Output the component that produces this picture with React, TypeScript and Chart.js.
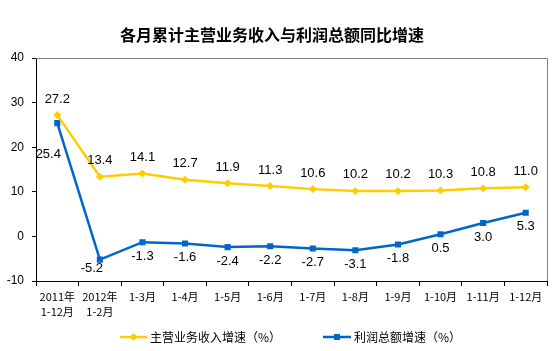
import React, { useEffect, useRef } from "react";
import { Chart, registerables } from "chart.js";
Chart.register(...registerables);

const titleText = "各月累计主营业务收入与利润总额同比增速";
const categories: (string | string[])[] = [
  ["2011年", "1-12月"],
  ["2012年", "1-2月"],
  "1-3月",
  "1-4月",
  "1-5月",
  "1-6月",
  "1-7月",
  "1-8月",
  "1-9月",
  "1-10月",
  "1-11月",
  "1-12月",
];
const revenueName = "主营业务收入增速（%）";
const revenue = [27.2, 13.4, 14.1, 12.7, 11.9, 11.3, 10.6, 10.2, 10.2, 10.3, 10.8, 11.0];
const profitName = "利润总额增速（%）";
const profit = [25.4, -5.2, -1.3, -1.6, -2.4, -2.2, -2.7, -3.1, -1.8, 0.5, 3.0, 5.3];
const yMin = -10;
const yMax = 40;
const yStep = 10;

const YELLOW = "#FFCC00";
const BLUE = "#0066CC";
const LATIN = '"Liberation Sans", Arial, "Noto Sans CJK SC", sans-serif';
const CJK = '"Noto Sans CJK SC", "Liberation Sans", sans-serif';

const decor = {
  id: "decor",
  afterDraw(chart: any) {
    const ctx = chart.ctx as CanvasRenderingContext2D;
    const a = chart.chartArea;
    ctx.save();
    // top/right frame
    ctx.strokeStyle = "#808080";
    ctx.lineWidth = 1;
    ctx.beginPath();
    ctx.moveTo(a.left, Math.round(a.top) + 0.5);
    ctx.lineTo(Math.round(a.right) + 0.5, Math.round(a.top) + 0.5);
    ctx.lineTo(Math.round(a.right) + 0.5, a.bottom);
    ctx.stroke();

    // title
    ctx.fillStyle = "#000";
    ctx.font = "bold 16px " + CJK;
    ctx.textAlign = "center";
    ctx.textBaseline = "middle";
    ctx.fillText(titleText, 272, 35);

    // data labels
    ctx.font = "13px " + LATIN;
    chart.data.datasets.forEach((ds: any, di: number) => {
      const meta = chart.getDatasetMeta(di);
      meta.data.forEach((pt: any, i: number) => {
        const v = ds.data[i] as number;
        let dx = 0;
        let dy = di === 0 ? -16 : 14;
        if (di === 1 && i === 0) {
          dx = -9;
          dy = 31;
        }
        if (di === 1 && i === 1) {
          dx = -8;
          dy = 9;
        }
        ctx.fillText(v.toFixed(1), pt.x + dx, pt.y + dy);
      });
    });

    // legend
    const ly = 337;
    const items = [
      { x1: 120, x2: 147, color: YELLOW, style: "diamond", text: revenueName },
      { x1: 323, x2: 351, color: BLUE, style: "square", text: profitName },
    ];
    ctx.font = "12px " + CJK;
    ctx.textAlign = "left";
    items.forEach((it) => {
      ctx.strokeStyle = it.color;
      ctx.lineWidth = 2.5;
      ctx.beginPath();
      ctx.moveTo(it.x1, ly);
      ctx.lineTo(it.x2, ly);
      ctx.stroke();
      const cx = (it.x1 + it.x2) / 2;
      ctx.fillStyle = it.color;
      ctx.beginPath();
      if (it.style === "diamond") {
        ctx.moveTo(cx, ly - 4);
        ctx.lineTo(cx + 4, ly);
        ctx.lineTo(cx, ly + 4);
        ctx.lineTo(cx - 4, ly);
        ctx.closePath();
      } else {
        ctx.rect(cx - 3, ly - 3, 6, 6);
      }
      ctx.fill();
      ctx.fillStyle = "#000";
      ctx.fillText(it.text, it.x2 + 3, ly);
    });
    ctx.restore();
  },
};

export default function App() {
  const ref = useRef<HTMLCanvasElement | null>(null);
  useEffect(() => {
    if (!ref.current) return;
    const chart = new Chart(ref.current, {
      type: "line",
      data: {
        labels: categories as any,
        datasets: [
          {
            label: revenueName,
            data: revenue,
            borderColor: YELLOW,
            backgroundColor: YELLOW,
            borderWidth: 2.5,
            pointStyle: "rectRot",
            pointRadius: 4,
            pointBorderWidth: 0,
            tension: 0,
          },
          {
            label: profitName,
            data: profit,
            borderColor: BLUE,
            backgroundColor: BLUE,
            borderWidth: 2.5,
            pointStyle: "rect",
            pointRadius: 4.3,
            pointBorderWidth: 0,
            tension: 0,
          },
        ],
      },
      options: {
        responsive: false,
        animation: false,
        layout: { padding: { top: 58, right: 7, left: 0, bottom: 0 } },
        plugins: {
          legend: { display: false },
          title: { display: false },
          tooltip: { enabled: false },
        },
        scales: {
          x: {
            type: "category",
            offset: true,
            grid: {
              display: true,
              drawOnChartArea: false,
              offset: true,
              tickLength: 5,
              color: "#000",
            },
            border: { color: "#000", width: 1 },
            ticks: {
              color: "#000",
              font: { size: 11, family: CJK, lineHeight: 1.4 },
              padding: 3,
              maxRotation: 0,
              autoSkip: false,
            },
            afterFit(s: any) {
              s.height = 70;
            },
          },
          y: {
            min: yMin,
            max: yMax,
            grid: {
              display: true,
              drawOnChartArea: false,
              tickLength: 4,
              color: "#000",
            },
            border: { color: "#000", width: 1 },
            ticks: {
              stepSize: yStep,
              color: "#000",
              font: { size: 12, family: LATIN },
              padding: 8,
            },
            afterFit(s: any) {
              s.width = 36;
            },
          },
        },
      },
      plugins: [decor],
    } as any);
    return () => chart.destroy();
  }, []);
  return (
    <div style={{ position: "fixed", left: 0, top: 0, width: 554, height: 351, background: "#fff" }}>
      <canvas ref={ref} width={554} height={351} style={{ display: "block", width: 554, height: 351 }} />
    </div>
  );
}
